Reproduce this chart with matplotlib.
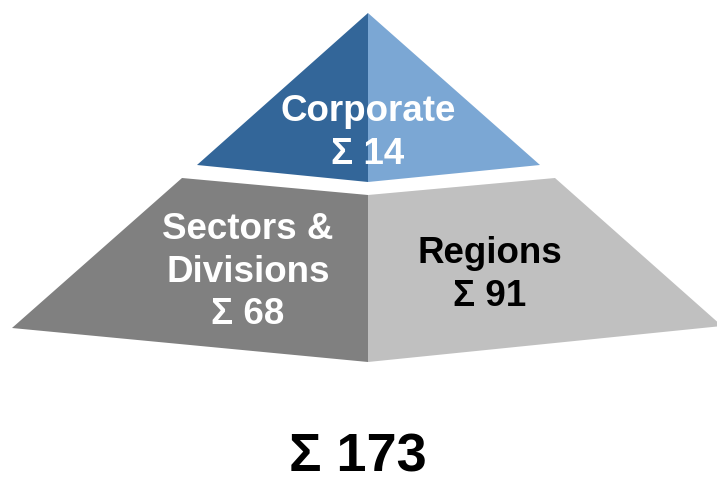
import matplotlib.pyplot as plt
from matplotlib.patches import Polygon

# data
groups = ["Corporate", "Sectors &\nDivisions", "Regions"]
counts = [14, 68, 91]
total = sum(counts)

dark_blue = "#336699"
light_blue = "#7BA7D4"
dark_grey = "#808080"
light_grey = "#C0C0C0"

fig = plt.figure(figsize=(7.17, 4.79), dpi=100)
ax = fig.add_axes([0, 0, 1, 1])
ax.set_xlim(0, 717)
ax.set_ylim(479, 0)
ax.axis("off")

# pyramid layout (pixel space)
cx = 368
top = [(cx, 13), (197, 165), (cx, 182), (540, 165)]
low = [(182, 178), (cx, 195), (555, 178), (722, 326), (cx, 362), (12, 328)]

ax.add_patch(Polygon([top[0], top[1], top[2]], closed=True, fc=dark_blue, ec="none"))
ax.add_patch(Polygon([top[0], top[2], top[3]], closed=True, fc=light_blue, ec="none"))
ax.add_patch(Polygon([low[0], low[1], low[4], low[5]], closed=True, fc=dark_grey, ec="none"))
ax.add_patch(Polygon([low[1], low[2], low[3], low[4]], closed=True, fc=light_grey, ec="none"))

font = dict(family=["Liberation Sans", "DejaVu Sans"], weight="bold",
            ha="center", va="center", fontsize=26.5, linespacing=1.27)

ax.text(cx, 133, groups[0] + "\n\u03a3 " + str(counts[0]), color="white", **font)
ax.text(248, 272, groups[1] + "\n\u03a3 " + str(counts[1]), color="white", **font)
ax.text(490, 275, groups[2] + "\n\u03a3 " + str(counts[2]), color="black", **font)

font["fontsize"] = 39
ax.text(358, 458, "\u03a3 " + str(total), color="black", **font)

fig.savefig("out.png", dpi=100)
